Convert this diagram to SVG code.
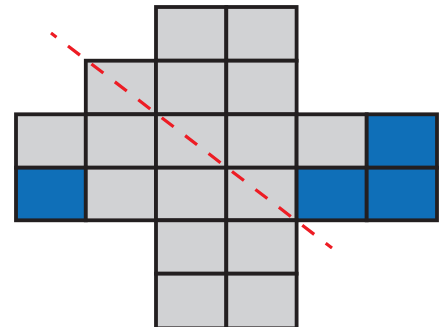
<svg xmlns="http://www.w3.org/2000/svg" width="446" height="327" viewBox="0 0 446 327">
<style>
.g{fill:#d1d2d4;stroke:#231f20;stroke-width:3.8}
.b{fill:#0f6fb8;stroke:#231f20;stroke-width:3.8}
.cut{fill:none;stroke:#ed1c24;stroke-width:3.2;stroke-dasharray:15 14.5;stroke-dashoffset:8.1}
</style>
<rect width="446" height="327" fill="#ffffff"/>
<g id="r0c2"><rect class="g" x="156" y="7" width="70.3" height="53.7"/></g>
<g id="r0c3"><rect class="g" x="226.3" y="7" width="70.3" height="53.7"/></g>
<g id="r1c1"><rect class="g" x="85.8" y="60.7" width="70.2" height="53.6"/></g>
<g id="r1c2"><rect class="g" x="156" y="60.7" width="70.3" height="53.6"/></g>
<g id="r1c3"><rect class="g" x="226.3" y="60.7" width="70.3" height="53.6"/></g>
<g id="r2c0"><rect class="g" x="16" y="114.3" width="69.8" height="53.4"/></g>
<g id="r2c1"><rect class="g" x="85.8" y="114.3" width="70.2" height="53.4"/></g>
<g id="r2c2"><rect class="g" x="156" y="114.3" width="70.3" height="53.4"/></g>
<g id="r2c3"><rect class="g" x="226.3" y="114.3" width="70.3" height="53.4"/></g>
<g id="r2c4"><rect class="g" x="296.6" y="114.3" width="70.1" height="53.4"/></g>
<g id="r2c5"><rect class="b" x="366.7" y="114.3" width="70.3" height="53.4"/></g>
<g id="r3c0"><rect class="b" x="16" y="167.7" width="69.8" height="52.6"/></g>
<g id="r3c1"><rect class="g" x="85.8" y="167.7" width="70.2" height="52.6"/></g>
<g id="r3c2"><rect class="g" x="156" y="167.7" width="70.3" height="52.6"/></g>
<g id="r3c3"><rect class="g" x="226.3" y="167.7" width="70.3" height="52.6"/></g>
<g id="r3c4"><rect class="b" x="296.6" y="167.7" width="70.1" height="52.6"/></g>
<g id="r3c5"><rect class="b" x="366.7" y="167.7" width="70.3" height="52.6"/></g>
<g id="r4c2"><rect class="g" x="156" y="220.3" width="70.3" height="53.4"/></g>
<g id="r4c3"><rect class="g" x="226.3" y="220.3" width="70.3" height="53.4"/></g>
<g id="r5c2"><rect class="g" x="156" y="273.7" width="70.3" height="54.6"/></g>
<g id="r5c3"><rect class="g" x="226.3" y="273.7" width="70.3" height="54.6"/></g>
<g id="connectors"><line class="cut" x1="51" y1="33" x2="332" y2="248"/></g>
</svg>
